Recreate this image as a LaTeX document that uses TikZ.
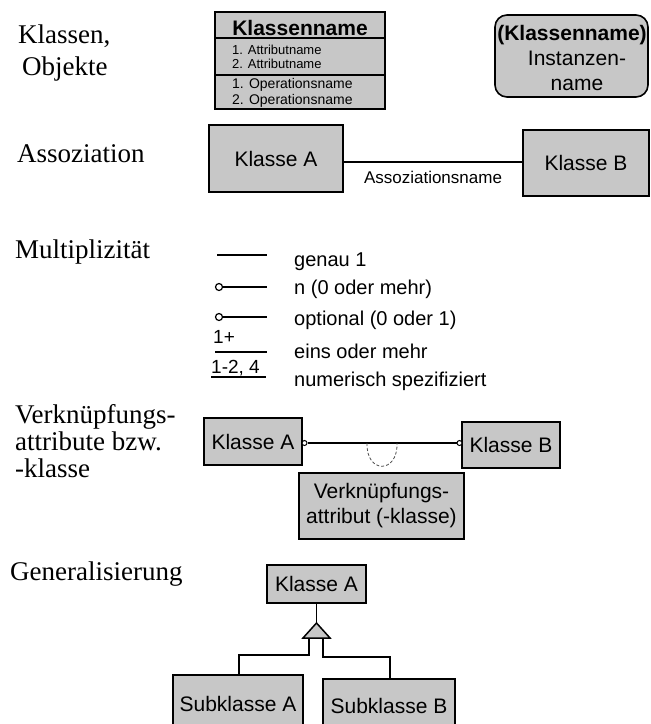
\documentclass[tikz,border=0pt]{standalone}
\usepackage{fontspec}
\setmainfont{Liberation Serif}
\setsansfont{Liberation Sans}
\begin{document}
\begin{tikzpicture}[x=1pt,y=-1pt,
  box/.style={draw=black, line width=1.6pt, fill=black!22, inner sep=0pt,
    font=\sffamily\fontsize{21}{25}\selectfont, align=center},
  head/.style={font=\rmfamily\fontsize{27}{27}\selectfont, anchor=base west, inner sep=0pt},
  lbl/.style={font=\sffamily\fontsize{20}{20}\selectfont, anchor=base west, inner sep=0pt},
  small/.style={font=\sffamily\fontsize{13}{13}\selectfont, anchor=base west, inner sep=0pt},
  conn/.style={line width=1.5pt},
  ring/.style={draw=black, line width=1.2pt, fill=white, circle, inner sep=0pt}
]
\clip (0,0) rectangle (651,724);
\fill[white] (0,0) rectangle (651,724);

% section headings
\node[head] (h1) at (18,43) {Klassen,};
\node[head] (h2) at (22,75) {Objekte};
\node[head] (h3) at (17,162) {Assoziation};
\node[head] (h4) at (15,258) {Multiplizität};
\node[head] (h5) at (15,423) {Verknüpfungs-};
\node[head] (h6) at (15,450) {attribute bzw.};
\node[head] (h7) at (15,477) {-klasse};
\node[head] (h8) at (10,580) {Generalisierung};

% class symbol with three compartments
\node[box, minimum width=170pt, minimum height=97pt] (kls) at (300,60.5) {};
\coordinate (d1) at (0,38);
\coordinate (d2) at (0,75);
\draw[line width=1.4pt] (kls.west |- d1) -- (kls.east |- d1);
\draw[line width=1.4pt] (kls.west |- d2) -- (kls.east |- d2);
\node[font=\sffamily\bfseries\fontsize{21}{21}\selectfont, anchor=base, inner sep=0pt] (kname) at (300,35) {Klassenname};
\node[small] (at1) at (232,54) {1. Attributname};
\node[small] (at2) at (232,68.5) {2. Attributname};
\node[small, font=\sffamily\fontsize{14}{14}\selectfont] (op1) at (232,88.5) {1. Operationsname};
\node[small, font=\sffamily\fontsize{14}{14}\selectfont] (op2) at (232,104) {2. Operationsname};

% object symbol
\node[box, rounded corners=12pt, minimum width=153pt, minimum height=82pt] (obj) at (571.5,56) {};
\node[font=\sffamily\bfseries\fontsize{21}{21}\selectfont, anchor=base, inner sep=0pt] (oname) at (572,40) {(Klassenname)};
\node[font=\sffamily\fontsize{21}{21}\selectfont, anchor=base, inner sep=0pt] (oinst) at (577,65) {Instanzen-};
\node[font=\sffamily\fontsize{21}{21}\selectfont, anchor=base, inner sep=0pt] (oname2) at (577,90) {name};

% association
\node[box, minimum width=134pt, minimum height=67pt] (ka) at (276,158.5) {Klasse A};
\node[box, minimum width=126pt, minimum height=66pt] (kb) at (586,163) {Klasse B};
\coordinate (a1) at ([yshift=-3.5pt]ka.east);
\draw[conn] (a1) -- (a1 -| kb.west);
\node[font=\sffamily\fontsize{17}{17}\selectfont, anchor=base, inner sep=0pt] (aname) at (433,183) {Assoziationsname};

% multiplicities
\draw[conn] (217,255) -- (267,255);
\node[ring, minimum size=7pt] (r1) at (219,287) {};
\draw[conn] (r1.east) -- (267,287);
\node[ring, minimum size=7pt] (r2) at (219,317) {};
\draw[conn] (r2.east) -- (267,317);
\node[lbl, font=\sffamily\fontsize{19}{19}\selectfont] (m1) at (213,343) {1+};
\draw[conn] (215,352) -- (267,352);
\node[lbl, font=\sffamily\fontsize{19}{19}\selectfont] (m2) at (211,373) {1-2, 4};
\draw[line width=1.3pt] (211,377) -- (266,377);
\node[lbl] (l1) at (294,266) {genau 1};
\node[lbl] (l2) at (294,294) {n (0 oder mehr)};
\node[lbl] (l3) at (294,325) {optional (0 oder 1)};
\node[lbl] (l4) at (294,358) {eins oder mehr};
\node[lbl] (l5) at (294,386) {numerisch spezifiziert};

% link attribute
\node[box, minimum width=98pt, minimum height=47pt] (va) at (253,441.5) {Klasse A};
\node[box, minimum width=98pt, minimum height=46pt] (vb) at (511,445) {Klasse B};
\node[ring, minimum size=5pt, line width=1pt] (c1) at (304.5,443) {};
\node[ring, minimum size=5pt, line width=1pt] (c2) at (459.5,443) {};
\draw[conn] (c1.east) -- (c2.west);
\node[box, minimum width=165pt, minimum height=66pt] (vattr) at (381.5,506) {Verknüpfungs-\\attribut (-klasse)};
\coordinate (u1) at (367,443);
\coordinate (u2) at (397,443);
\draw[black!70, line width=0.8pt, densely dashed] (u1) .. controls (366,474) and (398,474) .. (u2);

% generalization
\node[box, minimum width=99pt, minimum height=38pt] (gka) at (316.5,584) {Klasse A};
\node[box, minimum width=130pt, minimum height=58pt] (sa) at (238,704) {Subklasse A};
\node[box, minimum width=132pt, minimum height=54pt] (sb) at (389,706) {Subklasse B};
\coordinate (apex) at (316.5,623);
\draw[conn] (gka.south) -- (apex);
\draw[line width=1.5pt, fill=black!22, line join=miter] (apex) -- (330,638) -- (303,638) -- cycle;
\coordinate (tl) at (309,638);
\coordinate (tr) at (323,638);
\coordinate (bl) at (239,655);
\coordinate (br) at (390,657);
\draw[conn] (tl) |- (bl) -- (bl |- sa.north);
\draw[conn] (tr) |- (br) -- (br |- sb.north);
\end{tikzpicture}
\end{document}
